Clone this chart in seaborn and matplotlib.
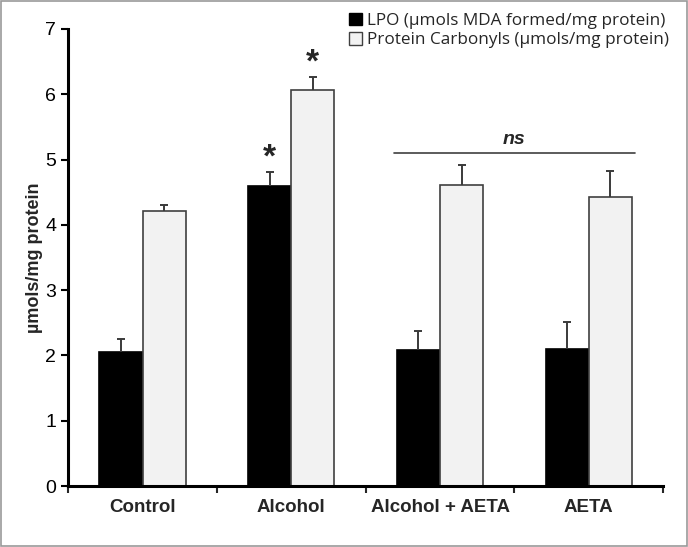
import pandas as pd
import matplotlib
matplotlib.use('Agg')
import matplotlib.pyplot as plt
from matplotlib.patches import Patch, Rectangle
import seaborn as sns

# Data
groups = ['Control', 'Alcohol', 'Alcohol + AETA', 'AETA']
lpo = [2.05, 4.60, 2.08, 2.10]
lpo_err = [0.20, 0.21, 0.30, 0.41]
carbonyl = [4.21, 6.06, 4.61, 4.42]
carbonyl_err = [0.10, 0.20, 0.30, 0.40]
series = ['LPO (\u00b5mols MDA formed/mg protein)', 'Protein Carbonyls (\u00b5mols/mg protein)']

df = pd.DataFrame({
    'group': groups * 2,
    'value': lpo + carbonyl,
    'measure': [series[0]] * 4 + [series[1]] * 4,
})

sns.set_style('ticks')
plt.rcParams['font.family'] = ['Liberation Sans', 'DejaVu Sans']

fig = plt.figure(figsize=(6.88, 5.47), dpi=100)
ax = fig.add_axes([0.099, 0.1115, 0.865, 0.8355])

sns.barplot(data=df, x='group', y='value', hue='measure', order=groups,
            hue_order=series, palette=['black', '#f2f2f2'], width=0.58,
            errorbar=None, legend=False, ax=ax)

# edges and error bars (upper side only)
edge_cols = ['black', '#404040']
errs = [lpo_err, carbonyl_err]
for cont, ec, err in zip(ax.containers, edge_cols, errs):
    xs, tops = [], []
    for bar in cont:
        bar.set_edgecolor(ec)
        bar.set_linewidth(1.2)
        xs.append(bar.get_x() + bar.get_width() / 2)
        tops.append(bar.get_height())
    eb = ax.errorbar(xs, tops, yerr=[[0] * len(err), err], fmt='none',
                     ecolor='#3a3a3a', elinewidth=1.4, capsize=2.8, capthick=1.4)
    eb[1][0].set_visible(False)

# significance marks
lpo_bar = ax.containers[0][1]
car_bar = ax.containers[1][1]
ax.text(lpo_bar.get_x() + lpo_bar.get_width() / 2, lpo[1] + lpo_err[1] - 0.02, '*',
        ha='center', va='bottom', fontsize=24, fontweight='bold')
ax.text(car_bar.get_x() + car_bar.get_width() / 2, carbonyl[1] + carbonyl_err[1] - 0.02, '*',
        ha='center', va='bottom', fontsize=24, fontweight='bold')
ax.plot([1.69, 3.31], [5.1, 5.1], color='#404040', lw=1.2)
ax.text(2.5, 5.17, 'ns', ha='center', va='bottom', fontsize=14,
        fontweight='bold', style='italic')

ax.set_ylim(0, 7)
ax.set_xlim(-0.5, 3.5)
ax.set_yticks(range(8))
ax.set_xlabel('')
ax.set_ylabel('\u00b5mols/mg protein', fontsize=13, fontweight='bold', labelpad=2)
ax.tick_params(axis='y', labelsize=14, length=5, width=1.5, direction='out', colors='black')
ax.tick_params(axis='x', which='major', length=0, labelsize=13.5, pad=9)
ax.set_xticks([-0.5, 0.5, 1.5, 2.5, 3.5], minor=True)
ax.tick_params(axis='x', which='minor', length=5, width=1.5, direction='out')
for lab in ax.get_xticklabels():
    lab.set_fontweight('bold')
sns.despine(ax=ax)
for s in ['left', 'bottom']:
    ax.spines[s].set_linewidth(2.2)
    ax.spines[s].set_color('black')

handles = [Patch(facecolor='black', edgecolor='black'),
           Patch(facecolor='#f2f2f2', edgecolor='#404040')]
fig.legend(handles, series, loc='upper right', bbox_to_anchor=(0.995, 1.005),
           frameon=False, prop={'family': 'Open Sans', 'size': 12.3},
           handlelength=0.75, handleheight=0.75, handletextpad=0.3, labelspacing=0.2)

fig.patches.append(Rectangle((0.002, 0.002), 0.996, 0.996, transform=fig.transFigure,
                             fill=False, edgecolor='#999999', lw=1.2))

fig.savefig('out.png', dpi=100)
